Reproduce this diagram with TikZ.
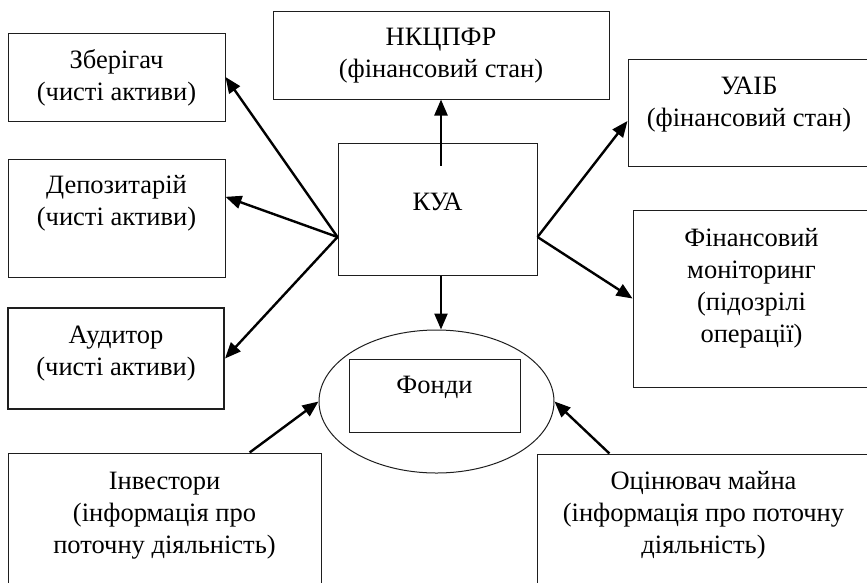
\documentclass[tikz,border=0pt]{standalone}
\usepackage{fontspec}
\setmainfont{Liberation Serif}
\usepackage{tikz}
\usetikzlibrary{calc,arrows.meta,shapes.geometric}
\definecolor{boxline}{RGB}{30,30,30}
\tikzset{
  blk/.style={draw=boxline,line width=1pt,inner sep=0pt,align=center,font=\fontsize{26.5}{32}\selectfont},
  arr/.style={line width=2.4pt,-{Triangle[length=16pt,width=13pt]}}
}

\begin{document}
\begin{tikzpicture}[x=1pt,y=-1pt]
        \clip (0,0) rectangle (867,582);
        % left column
        \node[blk,minimum width=217pt,text height=67pt,text depth=21pt] (zber) at (116.5,77) {Зберігач\\(чисті активи)};
        \node[blk,minimum width=217pt,text height=66pt,text depth=52pt] (depo) at (116.5,218) {Депозитарій\\(чисті активи)};
        \node[blk,line width=2pt,minimum width=216pt,text height=67pt,text depth=34pt] (audyt) at (116,358.5) {Аудитор\\(чисті активи)};
        % middle
        \node[blk,minimum width=336pt,text height=66pt,text depth=22pt] (nkc) at (441,55) {НКЦПФР\\(фінансовий стан)};
        \node[blk,minimum width=199pt,text height=67pt,text depth=65pt] (kua) at (437.5,209) {КУА};
        \node[draw=boxline,line width=1pt,ellipse,inner sep=0pt,minimum width=235pt,minimum height=143pt] (pool) at (436.5,401.5) {};
        \node[blk,minimum width=171pt,text height=34pt,text depth=39pt] (fondy) at (434.5,395.5) {Фонди};
        % right column
        \node[blk,minimum width=242pt,text height=67pt,text depth=40pt] (uaib) at (749,112.5) {УАІБ\\(фінансовий стан)};
        \node[blk,minimum width=237pt,text height=132pt,text depth=45pt] (finmon) at (751.5,298.5) {Фінансовий\\моніторинг\\(підозрілі\\операції)};
        % bottom
        \node[blk,minimum width=313pt,text height=100pt,text depth=47pt] (invest) at (164.5,526.5) {Інвестори\\(інформація про\\поточну діяльність)};
        \node[blk,minimum width=333pt,text height=99pt,text depth=47pt] (ocin) at (703.5,527) {Оцінювач майна\\(інформація про поточну\\діяльність)};
        % arrows
        \coordinate (kuaL) at ($(kua.west)+(0,28)$);
        \coordinate (kuaR) at ($(kua.east)+(0,28)$);
        \coordinate (kuaT) at ($(kua.north -| nkc.south)+(0,23)$);
        \coordinate (kuaB) at (kua.south -| nkc.south);
        \draw[arr] (kuaL) -- (zber.east);\draw[arr] (kuaL) -- (depo.11);\draw[arr] (kuaL) -- (audyt.east);
        \draw[arr] (kuaT) -- (nkc.south);
        \draw[arr] (kuaR) -- (uaib.184);\draw[arr] (kuaR) -- (finmon.west);
        \draw[arr] (kuaB) -- (pool.north -| kuaB);
        \draw[arr] (invest.41) -- (pool.west);\draw[arr] (ocin.142) -- (pool.east);
      \end{tikzpicture}
\end{document}
